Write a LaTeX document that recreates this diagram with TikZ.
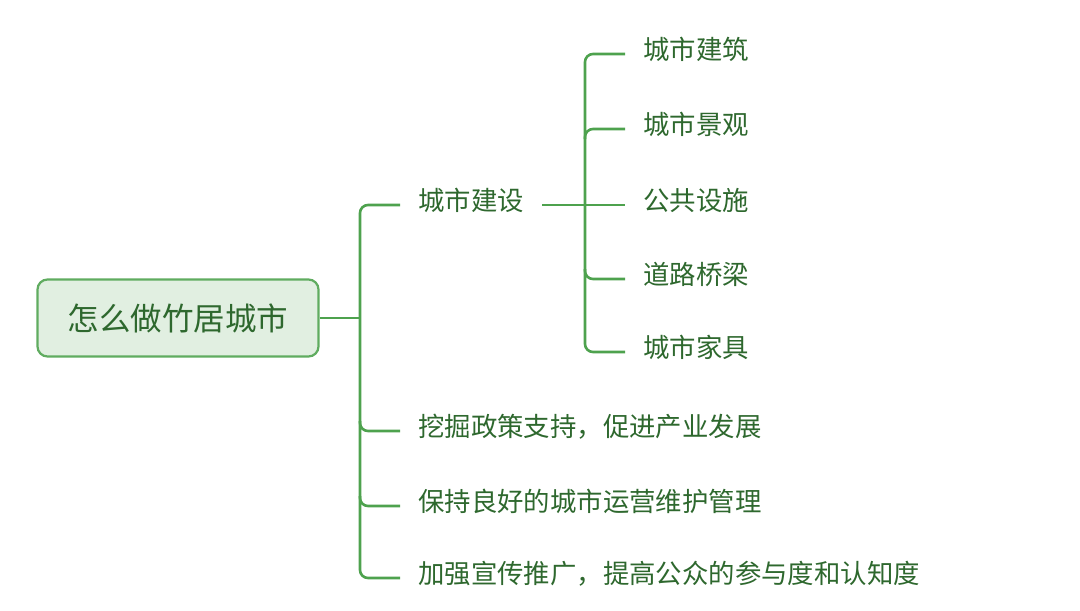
\documentclass[tikz,border=0pt]{standalone}
\usepackage{fontspec}
\setmainfont{Noto Sans CJK SC}
\usetikzlibrary{positioning}
\definecolor{mmline}{RGB}{78,162,78}
\definecolor{mmtext}{RGB}{46,104,46}
\definecolor{mmfill}{RGB}{225,239,225}
\definecolor{mmedge}{RGB}{96,172,96}

\begin{document}
\begin{tikzpicture}[x=1pt, y=-1pt,
  link/.style={draw=mmline, line width=2.6pt},
  item/.style={text=mmtext, font=\fontsize{26.4}{30}\selectfont, inner xsep=18pt, inner ysep=4pt,
    text height=21pt, text depth=11pt, anchor=west},
  rootbox/.style={draw=mmedge, fill=mmfill, line width=2.2pt, rounded corners=10pt,
    text=mmtext, font=\fontsize{31.5}{36}\selectfont, minimum width=281pt, minimum height=77pt}]
  \useasboundingbox (0,0) rectangle (1080,611);

  % root and first level
  \node[rootbox] (root) at (178,318) {怎么做竹居城市};
  \coordinate (trunk) at (360,318);
  \node[item] (build)  at (400,205) {城市建设};
  \node[item] (policy) at (400,431) {挖掘政策支持，促进产业发展};
  \node[item] (keep)   at ([yshift=-75pt]policy.west) {保持良好的城市运营维护管理};
  \node[item] (promo)  at ([yshift=-72pt]keep.west) {加强宣传推广，提高公众的参与度和认知度};

  % second level
  \coordinate (subtrunk) at (585,205);
  \node[item] (s1) at (625,54)  {城市建筑};
  \node[item] (s2) at (625,129) {城市景观};
  \node[item] (s3) at (625,205) {公共设施};
  \node[item] (s4) at (625,279) {道路桥梁};
  \node[item] (s5) at (625,352) {城市家具};

  \draw[link] (root.east) -- (trunk);
  \draw[link, rounded corners=8pt] (build.west) -| (trunk) |- (promo.west);
  \foreach \n in {policy,keep} {
    \path (trunk |- \n.west) coordinate (j);
    \draw[link, rounded corners=8pt] ([yshift=10pt]j) |- (\n.west);
  }

  \draw[link] (build.east) -- (s3.west);
  \draw[link, rounded corners=8pt] (s1.west) -| (subtrunk) |- (s5.west);
  \path (subtrunk |- s2.west) coordinate (j);
  \draw[link, rounded corners=8pt] ([yshift=-10pt]j) |- (s2.west);
  \path (subtrunk |- s4.west) coordinate (j);
  \draw[link, rounded corners=8pt] ([yshift=10pt]j) |- (s4.west);
\end{tikzpicture}
\end{document}
